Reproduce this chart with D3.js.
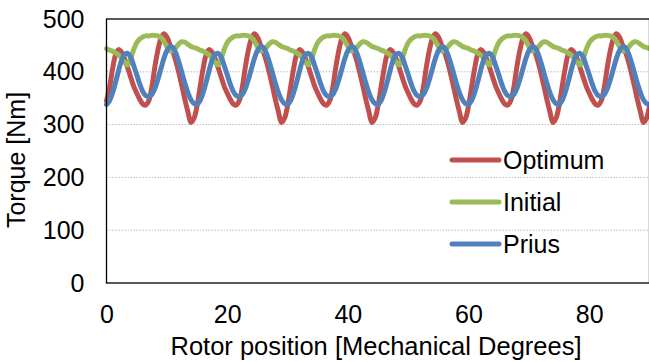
<!DOCTYPE html>
<html>
<head>
<meta charset="utf-8">
<script src="https://cdn.jsdelivr.net/npm/d3@7"></script>
<style>
  body { margin: 0; background: #fff; }
  text { font-family: "Liberation Sans", Arial, sans-serif; fill: #000; }
</style>
</head>
<body>
<div id="chart"></div>
<script>
// rotor position, 0..90 deg in 0.5 deg steps
const positions = d3.range(0, 90.01, 0.5);

// torque [Nm], one row per 15 deg
const optimum = [
  345,370,405,432,442,437,425,408,390,373,360,348,339,337,345,370,408,440,462,472,466,452,438,420,398,373,347,324,304,312,
  335,370,405,432,442,437,425,408,390,373,360,348,339,337,345,370,408,440,462,472,466,452,438,420,398,373,347,324,304,312,
  335,370,405,432,442,437,425,408,390,373,360,348,339,337,345,370,408,440,462,472,466,452,438,420,398,373,347,324,304,312,
  335,370,405,432,442,437,425,408,390,373,360,348,339,337,345,370,408,440,462,472,466,452,438,420,398,373,347,324,304,312,
  335,370,405,432,442,437,425,408,390,373,360,348,339,337,345,370,408,440,462,472,466,452,438,420,398,373,347,324,304,312,
  335,370,405,432,442,437,425,408,390,373,360,348,339,337,345,370,408,440,462,472,466,452,438,420,398,373,347,324,304,312,
  335
];
const initial = [
  444,441,439,436,432,426,418,413,425,442,455,462,466,468,468,469,469,468,465,458,448,440,440,446,453,457,456,452,448,446,
  444,441,439,436,432,426,418,413,425,442,455,462,466,468,468,469,469,468,465,458,448,440,440,446,453,457,456,452,448,446,
  444,441,439,436,432,426,418,413,425,442,455,462,466,468,468,469,469,468,465,458,448,440,440,446,453,457,456,452,448,446,
  444,441,439,436,432,426,418,413,425,442,455,462,466,468,468,469,469,468,465,458,448,440,440,446,453,457,456,452,448,446,
  444,441,439,436,432,426,418,413,425,442,455,462,466,468,468,469,469,468,465,458,448,440,440,446,453,457,456,452,448,446,
  444,441,439,436,432,426,418,413,425,442,455,462,466,468,468,469,469,468,465,458,448,440,440,446,453,457,456,452,448,446,
  444
];
const prius = [
  338,345,360,380,402,422,433,435,428,412,395,377,363,355,353,357,368,385,405,425,440,447,446,435,418,398,378,360,347,340,
  338,345,360,380,402,422,433,435,428,412,395,377,363,355,353,357,368,385,405,425,440,447,446,435,418,398,378,360,347,340,
  338,345,360,380,402,422,433,435,428,412,395,377,363,355,353,357,368,385,405,425,440,447,446,435,418,398,378,360,347,340,
  338,345,360,380,402,422,433,435,428,412,395,377,363,355,353,357,368,385,405,425,440,447,446,435,418,398,378,360,347,340,
  338,345,360,380,402,422,433,435,428,412,395,377,363,355,353,357,368,385,405,425,440,447,446,435,418,398,378,360,347,340,
  338,345,360,380,402,422,433,435,428,412,395,377,363,355,353,357,368,385,405,425,440,447,446,435,418,398,378,360,347,340,
  338
];

const xTicks = [0, 20, 40, 60, 80];
const yTicks = [0, 100, 200, 300, 400, 500];

const series = [
  { name: 'Optimum', values: optimum, color: '#C0504D' },
  { name: 'Initial', values: initial, color: '#9BBB59' },
  { name: 'Prius',   values: prius,   color: '#4F81BD' }
];

const width = 649, height = 362;
const plot = { left: 106.5, right: 649.5, top: 19, bottom: 283 };
const font = '"Liberation Sans", Arial, sans-serif';

const svg = d3.select('#chart').append('svg')
  .attr('width', width)
  .attr('height', height);

const x = d3.scaleLinear().domain([0, 90]).range([plot.left, plot.right]);
const y = d3.scaleLinear().domain([0, 500]).range([plot.bottom, plot.top]);

// dotted gridlines
svg.append('g')
  .selectAll('line')
  .data(yTicks.filter(d => d > 0 && d < 500))
  .enter().append('line')
  .attr('x1', plot.left).attr('x2', plot.right)
  .attr('y1', d => y(d)).attr('y2', d => y(d))
  .attr('stroke', '#bdbdbd')
  .attr('stroke-width', 1)
  .attr('stroke-dasharray', '1.5,1.5');

// series
const line = d3.line()
  .x((d, i) => x(positions[i]))
  .y(d => y(d))
  .curve(d3.curveCatmullRom.alpha(0.5));

svg.append('g')
  .selectAll('path')
  .data(series)
  .enter().append('path')
  .attr('d', d => line(d.values))
  .attr('fill', 'none')
  .attr('stroke', d => d.color)
  .attr('stroke-width', 5)
  .attr('stroke-linejoin', 'round')
  .attr('stroke-linecap', 'round');

// plot area border
svg.append('rect')
  .attr('x', plot.left).attr('y', plot.top)
  .attr('width', plot.right - plot.left)
  .attr('height', plot.bottom - plot.top)
  .attr('fill', 'none')
  .attr('stroke', '#000')
  .attr('stroke-width', 1.3);

// axes
const xAxis = d3.axisBottom(x).tickValues(xTicks).tickSize(0).tickPadding(22);
const yAxis = d3.axisLeft(y).tickValues(yTicks).tickSize(0).tickPadding(22);

const gx = svg.append('g')
  .attr('transform', 'translate(0,' + plot.bottom + ')')
  .call(xAxis);
gx.select('.domain').remove();
gx.selectAll('text').style('font-size', '25px').style('font-family', font).attr('fill', '#000');

const gy = svg.append('g')
  .attr('transform', 'translate(' + plot.left + ',0)')
  .call(yAxis);
gy.select('.domain').remove();
gy.selectAll('text').style('font-size', '25px').style('font-family', font).attr('fill', '#000');

// axis titles
svg.append('text')
  .attr('x', 376).attr('y', 355)
  .attr('text-anchor', 'middle')
  .style('font-size', '25.5px')
  .text('Rotor position [Mechanical Degrees]');

svg.append('text')
  .attr('transform', 'translate(25,160) rotate(-90)')
  .attr('text-anchor', 'middle')
  .style('font-size', '25px')
  .text('Torque [Nm]');

// legend
const legend = svg.append('g')
  .selectAll('g')
  .data(series)
  .enter().append('g')
  .attr('transform', (d, i) => 'translate(452,' + (160 + i * 42) + ')');

legend.append('line')
  .attr('x1', 0).attr('x2', 47)
  .attr('stroke', d => d.color)
  .attr('stroke-width', 5)
  .attr('stroke-linecap', 'round');

legend.append('text')
  .attr('x', 51)
  .attr('dy', '0.35em')
  .style('font-size', '25px')
  .text(d => d.name);
</script>
</body>
</html>
